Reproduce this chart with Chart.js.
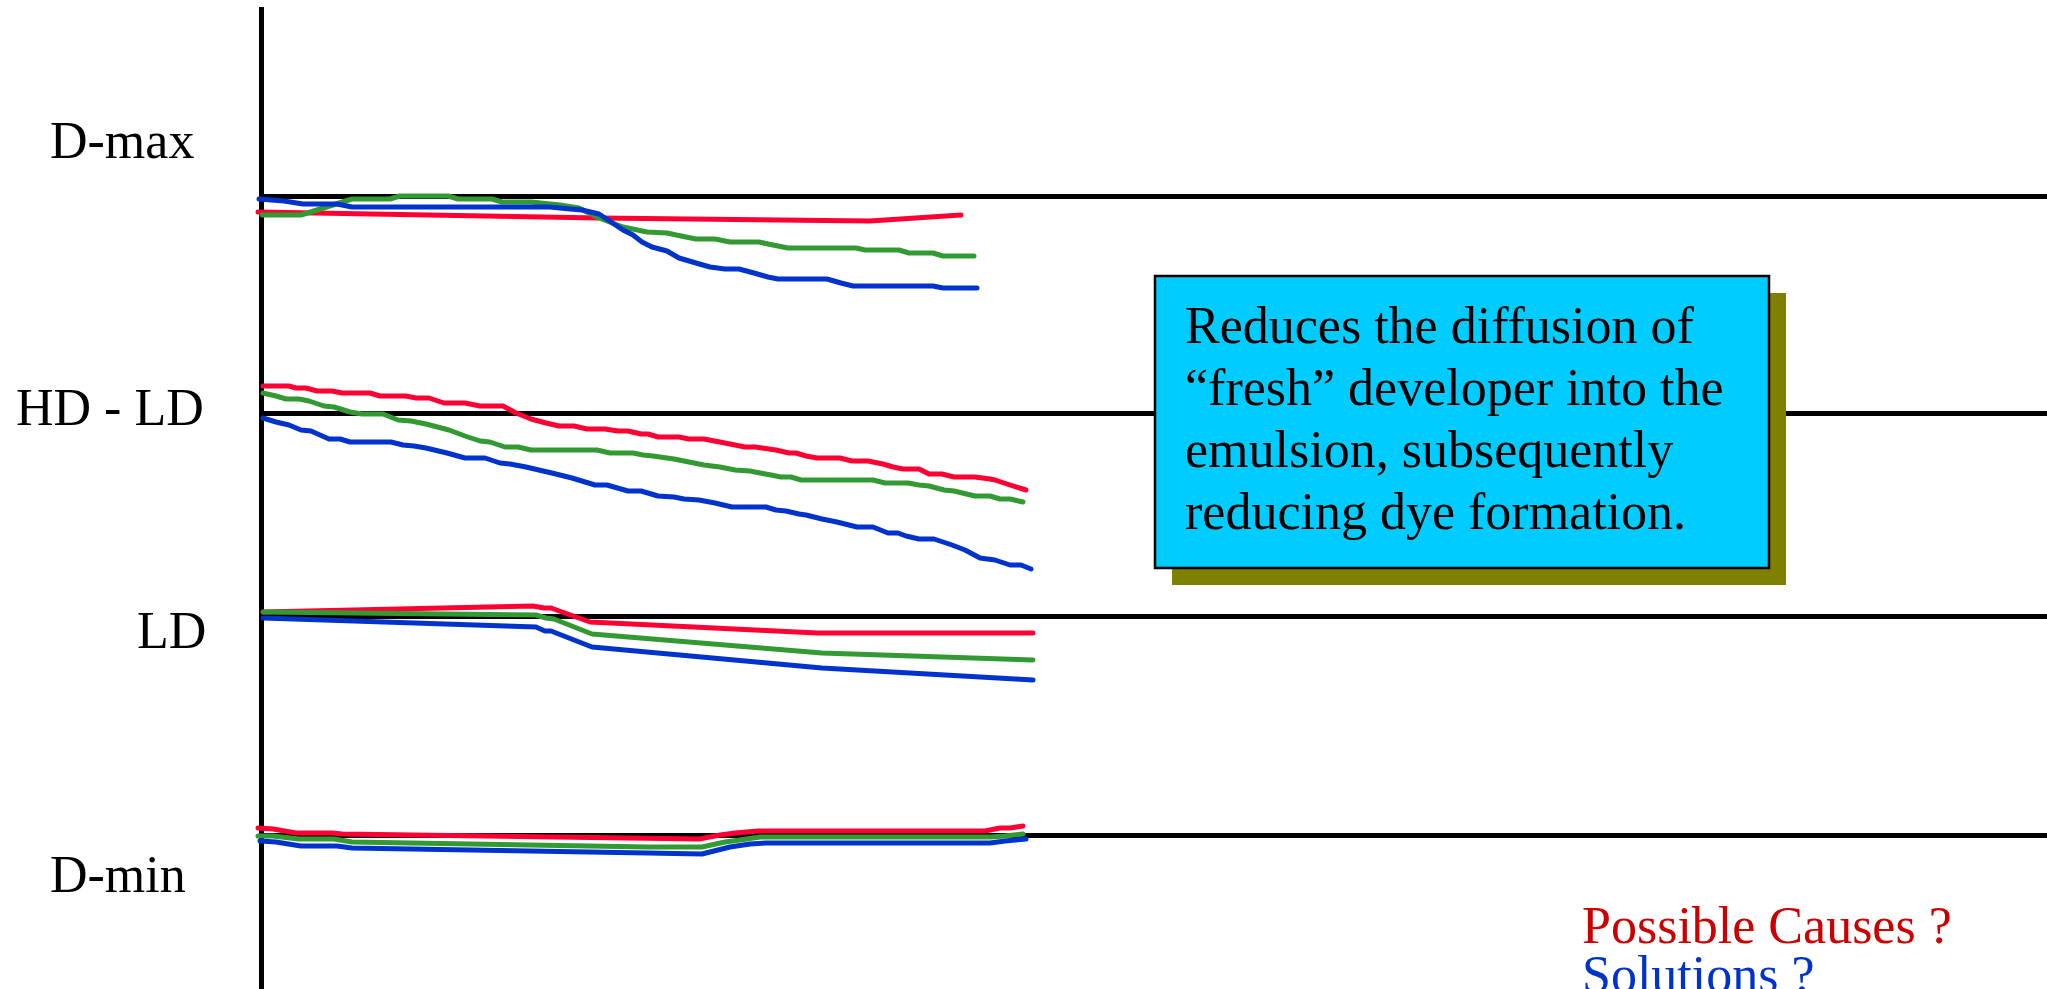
<!DOCTYPE html>
<html>
<head>
<meta charset="utf-8">
<script src="https://cdn.jsdelivr.net/npm/chart.js@4.4.1/dist/chart.umd.min.js"></script>
<style>
  html, body { margin: 0; padding: 0; background: #ffffff; overflow: hidden; }
  canvas { display: block; }
</style>
</head>
<body>
<canvas id="chart" width="2047" height="989"></canvas>
<script>
// Density control levels (y values) and their names
const levelNames = ['D-max', 'HD - LD', 'LD', 'D-min'];
const levelValues = [79.3, 57.5, 37.2, 15.4];

// D-max traces [time, density]
const dmaxRed = [[-0.3, 77.7], [33.8, 77.1], [60.9, 76.8], [70.0, 77.4]];
const dmaxGreen = [[0.1, 77.4], [4.0, 77.4], [9.1, 79.0], [12.9, 79.0], [13.9, 79.3], [18.7, 79.3], [19.7, 79.0], [23.1, 79.0], [24.1, 78.7], [27.0, 78.7], [29.9, 78.4], [31.8, 78.1], [33.8, 77.1], [36.2, 76.2], [38.6, 75.7], [40.6, 75.6], [42.0, 75.3], [43.5, 75.0], [45.4, 75.0], [46.9, 74.7], [49.8, 74.7], [50.7, 74.5], [52.7, 74.1], [59.5, 74.1], [60.4, 73.9], [63.8, 73.9], [64.8, 73.6], [67.2, 73.6], [68.2, 73.3], [71.3, 73.3]];
const dmaxBlue = [[-0.2, 79.0], [2.3, 78.8], [4.2, 78.5], [7.6, 78.5], [9.1, 78.2], [28.9, 78.2], [30.9, 78.0], [32.1, 77.9], [33.8, 77.5], [34.7, 76.9], [36.2, 75.9], [37.2, 75.4], [38.1, 74.7], [39.1, 74.2], [40.6, 73.8], [41.8, 73.1], [43.5, 72.6], [44.9, 72.2], [46.4, 72.0], [47.8, 72.0], [49.3, 71.6], [50.7, 71.2], [51.7, 71.0], [56.6, 71.0], [58.0, 70.6], [59.2, 70.3], [67.2, 70.3], [68.2, 70.1], [71.6, 70.1]];

// HD - LD traces
const hdldRed = [[0.2, 60.3], [2.8, 60.3], [3.5, 60.1], [4.5, 60.1], [5.6, 59.8], [7.1, 59.8], [8.1, 59.6], [10.9, 59.6], [11.9, 59.3], [14.5, 59.3], [15.5, 59.1], [16.8, 59.1], [18.3, 58.6], [20.4, 58.6], [21.9, 58.3], [24.2, 58.3], [25.5, 57.6], [27.0, 57.0], [28.5, 56.6], [29.8, 56.3], [31.3, 56.3], [32.6, 56.0], [34.4, 56.0], [35.7, 55.8], [36.7, 55.8], [38.0, 55.5], [38.7, 55.5], [39.7, 55.2], [41.8, 55.2], [42.8, 55.0], [44.3, 55.0], [46.4, 54.6], [48.4, 54.2], [49.4, 54.2], [51.5, 53.9], [52.8, 53.6], [53.5, 53.6], [54.5, 53.3], [55.6, 53.1], [57.9, 53.1], [59.1, 52.8], [60.7, 52.8], [62.2, 52.5], [63.2, 52.2], [64.2, 52.0], [65.8, 52.0], [66.8, 51.5], [68.1, 51.5], [69.3, 51.2], [71.4, 51.2], [72.9, 51.0], [73.4, 50.9], [74.9, 50.4], [76.5, 49.9]];
const hdldGreen = [[0.2, 59.6], [1.5, 59.3], [2.5, 59.0], [3.8, 59.0], [4.8, 58.8], [6.3, 58.3], [7.3, 58.2], [8.9, 57.7], [10.1, 57.5], [12.2, 57.5], [13.7, 56.9], [15.0, 56.8], [16.5, 56.5], [18.8, 55.9], [20.4, 55.3], [21.9, 54.8], [22.9, 54.7], [24.4, 54.2], [25.7, 54.2], [27.0, 53.9], [33.6, 53.9], [34.9, 53.6], [37.2, 53.6], [38.2, 53.4], [39.2, 53.3], [41.3, 53.0], [42.8, 52.7], [44.3, 52.4], [45.9, 52.2], [47.4, 51.9], [48.9, 51.8], [49.9, 51.6], [51.0, 51.4], [52.0, 51.2], [53.0, 51.2], [54.0, 50.9], [61.2, 50.9], [62.4, 50.6], [64.7, 50.6], [65.8, 50.4], [66.8, 50.3], [68.3, 49.9], [69.3, 49.8], [71.4, 49.3], [72.9, 49.3], [73.9, 49.0], [74.9, 49.0], [76.2, 48.7]];
const hdldBlue = [[0.2, 57.1], [1.5, 56.7], [2.8, 56.4], [4.0, 55.9], [5.0, 55.8], [6.8, 55.0], [7.9, 55.0], [8.9, 54.7], [13.0, 54.7], [14.2, 54.4], [15.3, 54.3], [16.5, 54.1], [18.6, 53.6], [20.4, 53.1], [22.4, 53.1], [23.9, 52.6], [24.9, 52.5], [26.5, 52.2], [29.5, 51.5], [31.1, 51.1], [33.4, 50.4], [34.6, 50.4], [36.7, 49.8], [38.0, 49.8], [39.7, 49.3], [41.3, 49.2], [42.3, 49.0], [43.8, 48.9], [45.4, 48.6], [47.1, 48.2], [50.5, 48.2], [51.5, 47.9], [52.5, 47.8], [53.8, 47.5], [54.5, 47.4], [56.1, 47.0], [57.6, 46.7], [59.6, 46.2], [61.2, 46.2], [62.7, 45.6], [63.7, 45.6], [64.5, 45.3], [65.8, 45.0], [67.3, 45.0], [69.1, 44.4], [70.4, 43.9], [71.9, 43.1], [73.4, 42.9], [74.9, 42.4], [76.0, 42.4], [77.0, 42.0]];

// LD traces
const ldRed = [[0.2, 37.7], [27.2, 38.3], [28.3, 38.1], [29.0, 38.1], [32.9, 36.7], [55.6, 35.6], [77.2, 35.6]];
const ldGreen = [[0.2, 37.7], [27.5, 37.4], [28.5, 37.1], [29.3, 37.0], [33.1, 35.5], [56.1, 33.6], [77.2, 32.9]];
const ldBlue = [[0.2, 37.1], [27.5, 36.2], [28.4, 35.8], [29.0, 35.8], [33.1, 34.2], [56.1, 32.1], [77.2, 30.9]];

// D-min traces
const dminRed = [[-0.3, 16.1], [1.2, 16.0], [3.5, 15.6], [7.1, 15.6], [8.1, 15.5], [43.8, 15.0], [45.9, 15.4], [47.4, 15.6], [49.7, 15.8], [72.4, 15.8], [73.9, 16.1], [74.9, 16.1], [76.2, 16.3]];
const dminGreen = [[-0.3, 15.3], [1.2, 15.3], [3.8, 15.0], [7.3, 15.0], [9.1, 14.7], [38.7, 14.2], [44.1, 14.2], [46.4, 14.7], [47.9, 14.9], [49.9, 15.2], [72.9, 15.2], [74.4, 15.3], [76.2, 15.5]];
const dminBlue = [[-0.1, 14.8], [1.5, 14.7], [4.0, 14.3], [7.6, 14.3], [9.1, 14.1], [38.7, 13.6], [44.1, 13.5], [46.9, 14.2], [48.9, 14.5], [50.5, 14.6], [72.9, 14.6], [74.4, 14.8], [76.5, 15.0]];

// Note texts
const noteLines = ['Reduces the diffusion of', '\u201cfresh\u201d developer into the', 'emulsion, subsequently', 'reducing dye formation.'];
const causesText = 'Possible Causes ?';
const solutionsText = 'Solutions ?';

const SERIF = "'Liberation Serif', 'Times New Roman', 'DejaVu Serif', serif";
const RED = 'rgb(255,0,51)';
const GREEN = 'rgb(51,153,51)';
const BLUE = 'rgb(0,51,204)';

function trace(points, color, order) {
  return {
    data: points.map(([x, y]) => ({ x, y })),
    borderColor: color,
    backgroundColor: color,
    borderWidth: 5,
    pointRadius: 0,
    pointHoverRadius: 0,
    tension: 0,
    fill: false,
    clip: false,
    borderCapStyle: 'round',
    borderJoinStyle: 'round',
    order
  };
}

const datasets = [];
[[dmaxRed, dmaxGreen, dmaxBlue], [hdldRed, hdldGreen, hdldBlue], [ldRed, ldGreen, ldBlue], [dminRed, dminGreen, dminBlue]]
  .forEach(([r, g, b]) => {
    datasets.push(trace(r, RED, 3));
    datasets.push(trace(g, GREEN, 2));
    datasets.push(trace(b, BLUE, 1));
  });

// Draws the level names, the note box and the closing questions on top of the plot
const annotationsPlugin = {
  id: 'slideText',
  afterDraw(chart, args, opts) {
    const { ctx } = chart;
    const xs = chart.scales.x, ys = chart.scales.y;
    const px = v => xs.getPixelForValue(v);
    const py = v => ys.getPixelForValue(v);
    ctx.save();
    ctx.textBaseline = 'alphabetic';
    ctx.textAlign = 'left';

    // level names
    ctx.fillStyle = '#000000';
    ctx.font = `${opts.fontSize}px ${SERIF}`;
    levelNames.forEach((name, i) => {
      const a = opts.levelLabelAt[i];
      ctx.fillText(name, px(a.x), py(a.y));
    });

    // note box with offset shadow
    const b = opts.box;
    const left = px(b.x0), right = px(b.x1), top = py(b.y1), bottom = py(b.y0);
    ctx.fillStyle = '#808000';
    ctx.fillRect(left + b.shadow, top + b.shadow, right - left, bottom - top);
    ctx.fillStyle = '#00ccff';
    ctx.fillRect(left, top, right - left, bottom - top);
    ctx.lineWidth = 2.5;
    ctx.strokeStyle = '#000000';
    ctx.strokeRect(left, top, right - left, bottom - top);
    ctx.fillStyle = '#000000';
    ctx.font = `${opts.fontSize}px ${SERIF}`;
    noteLines.forEach((line, i) => {
      ctx.fillText(line, left + b.padX, top + b.firstBaseline + i * b.lineGap);
    });

    // closing questions
    const q = opts.questions;
    ctx.font = `${opts.fontSize}px ${SERIF}`;
    ctx.fillStyle = '#cc0000';
    ctx.fillText(causesText, px(q.x), py(q.y1));
    ctx.fillStyle = '#0033cc';
    ctx.fillText(solutionsText, px(q.x), py(q.y2));
    ctx.restore();
  }
};

new Chart(document.getElementById('chart'), {
  type: 'line',
  data: { datasets },
  plugins: [annotationsPlugin],
  options: {
    responsive: false,
    animation: false,
    devicePixelRatio: 1,
    layout: { padding: { left: 261, right: 0, top: 9, bottom: 0 } },
    plugins: {
      legend: { display: false },
      tooltip: { enabled: false },
      slideText: {
        fontSize: 52,
        levelLabelAt: [
          { x: -21.1, y: 83.1 },
          { x: -24.5, y: 56.4 },
          { x: -12.4, y: 34.1 },
          { x: -21.1, y: 9.7 }
        ],
        box: { x0: 89.4, x1: 150.8, y0: 42.1, y1: 71.3, shadow: 17, padX: 30, firstBaseline: 66.7, lineGap: 62.2 },
        questions: { x: 132.1, y1: 4.6, y2: -0.3 }
      }
    },
    scales: {
      x: {
        type: 'linear',
        min: 0,
        max: 178.6,
        display: false
      },
      y: {
        type: 'linear',
        position: 'left',
        min: 0,
        max: 98,
        afterBuildTicks: scale => { scale.ticks = levelValues.map(v => ({ value: v })); },
        ticks: { display: false },
        grid: { color: '#000000', lineWidth: 5, drawTicks: false },
        border: { display: true, color: '#000000', width: 5 }
      }
    }
  }
});
</script>
</body>
</html>
